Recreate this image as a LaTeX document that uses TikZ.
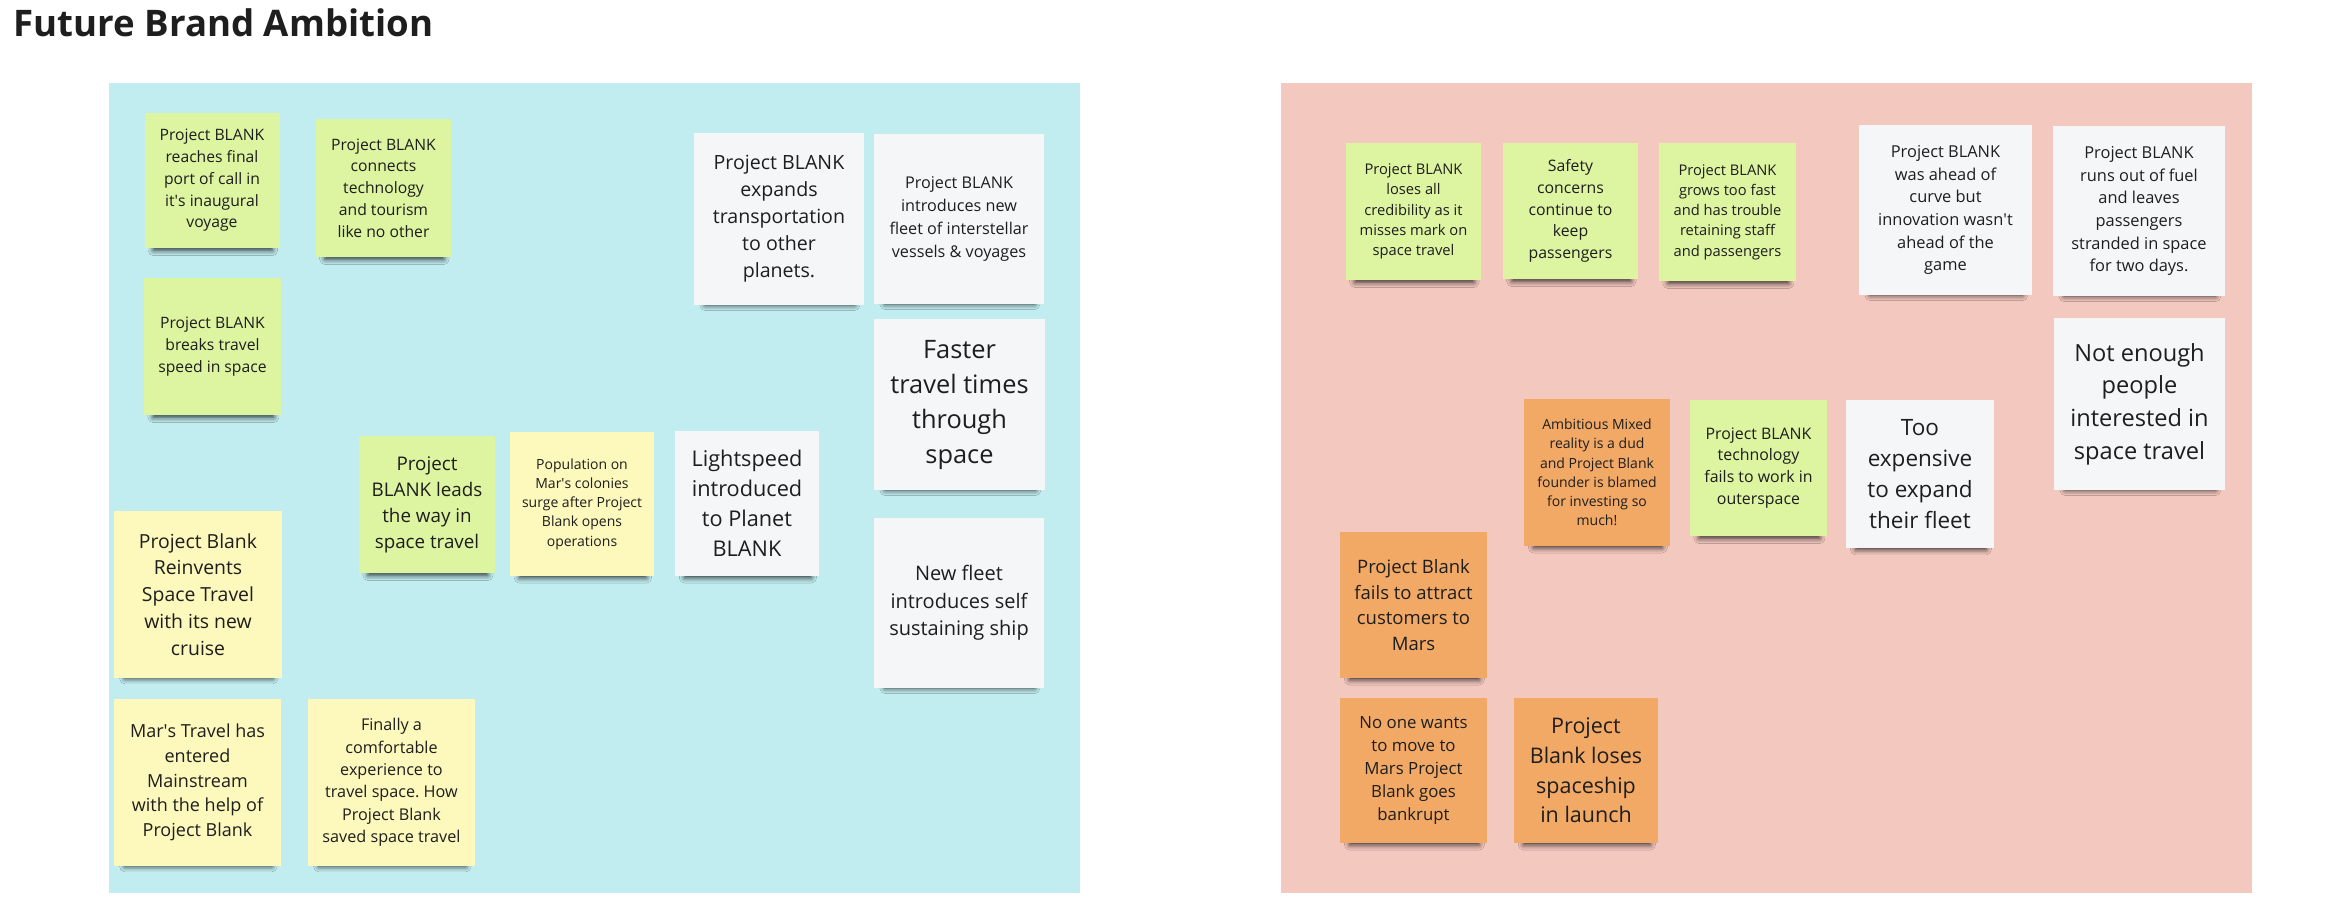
\documentclass[tikz,border=0pt]{standalone}
\usepackage{fontspec}
\setmainfont{Open Sans}
\usetikzlibrary{shadows.blur}
\frenchspacing

\definecolor{boardcyan}{HTML}{C2EDF0}
\definecolor{boardpink}{HTML}{F3C8BF}
\definecolor{notegreen}{HTML}{DDF4A0}
\definecolor{noteyellow}{HTML}{FDF8BB}
\definecolor{notewhite}{HTML}{F5F6F8}
\definecolor{noteorange}{HTML}{F2A965}
\definecolor{inkgray}{HTML}{1E1E1E}

\newcommand{\apo}{\textquotesingle}

\tikzset{
  note/.style={rectangle, inner sep=0pt, align=center, text=inkgray,
    blur shadow={shadow xshift=1pt, shadow yshift=-12pt, shadow scale=.88,
      shadow blur radius=6pt, shadow opacity=80}},
  green/.style={note, fill=notegreen},
  yellow/.style={note, fill=noteyellow},
  white/.style={note, fill=notewhite},
  orange/.style={note, fill=noteorange},
  sz/.style 2 args={minimum width=#1pt, minimum height=#2pt},
  fs/.style 2 args={font=\fontsize{#1pt}{#2pt}\selectfont},
}

\begin{document}
\begin{tikzpicture}[x=1pt,y=-1pt]
\useasboundingbox (0,0) rectangle (2332,900);
\node[anchor=base west, inkgray, font=\fontsize{36.6pt}{44pt}\selectfont\bfseries]
  (title) at (10,36) {Future Brand Ambition};

% boards
\fill[boardcyan] (109,83) rectangle (1080,893);
\fill[boardpink] (1281,83) rectangle (2252,893);

% positive future
\node[green, sz={135}{135}, fs={15.7}{21.7}] (reach) at (212,180.5)
  {Project BLANK\\reaches final\\port of call in\\it\apo s inaugural\\voyage};
\node[green, sz={135}{138}, fs={15.7}{21.8}] (connect) at (383.5,188)
  {Project BLANK\\connects\\technology\\and tourism\\like no other};
\node[green, sz={137}{137}, fs={15.7}{22}] (breaks) at (212.5,346.5)
  {Project BLANK\\breaks travel\\speed in space};
\node[white, sz={170}{172}, fs={19.6}{27}] (expands) at (779,219)
  {Project BLANK\\expands\\transportation\\to other\\planets.};
\node[white, sz={170}{170}, fs={16.2}{22.7}] (fleet) at (959,219)
  {Project BLANK\\introduces new\\fleet of interstellar\\vessels \& voyages};
\node[white, sz={171}{171}, fs={25.4}{35}] (faster) at (959.5,404.5)
  {Faster\\travel times\\through\\space};
\node[green, sz={136}{137}, fs={18.8}{26}] (leads) at (427,504.5)
  {Project\\BLANK leads\\the way in\\space travel};
\node[yellow, sz={144}{144}, fs={14}{19.3}] (colonies) at (582,504)
  {Population on\\Mar\apo s colonies\\surge after Project\\Blank opens\\operations};
\node[white, sz={144}{145}, fs={21.7}{30}] (lightspeed) at (747,503.5)
  {Lightspeed\\introduced\\to Planet\\BLANK};
\node[white, sz={170}{170}, fs={20}{27.7}] (selfship) at (959,603)
  {New fleet\\introduces self\\sustaining ship};
\node[yellow, sz={168}{167}, fs={19.4}{26.8}] (reinvents) at (198,594.5)
  {Project Blank\\Reinvents\\Space Travel\\with its new\\cruise};
\node[yellow, sz={167}{167}, fs={18}{24.8}] (mainstream) at (197.5,782.5)
  {Mar\apo s Travel has\\entered\\Mainstream\\with the help of\\Project Blank};
\node[yellow, sz={167}{167}, fs={16.2}{22.3}] (comfort) at (391.5,782.5)
  {Finally a\\comfortable\\experience to\\travel space. How\\Project Blank\\saved space travel};

% negative future
\node[green, sz={135}{137}, fs={14.7}{20.3}] (credibility) at (1413.5,211.5)
  {Project BLANK\\loses all\\credibility as it\\misses mark on\\space travel};
\node[green, sz={135}{136}, fs={15.8}{21.8}] (safety) at (1570.5,211)
  {Safety\\concerns\\continue to\\keep\\passengers};
\node[green, sz={137}{138}, fs={14.7}{20.3}] (growth) at (1727.5,212)
  {Project BLANK\\grows too fast\\and has trouble\\retaining staff\\and passengers};
\node[white, sz={173}{170}, fs={16.4}{22.7}] (ahead) at (1945.5,210)
  {Project BLANK\\was ahead of\\curve but\\innovation wasn\apo t\\ahead of the\\game};
\node[white, sz={172}{170}, fs={16.4}{22.7}] (fuel) at (2139,211)
  {Project BLANK\\runs out of fuel\\and leaves\\passengers\\stranded in space\\for two days.};
\node[white, sz={171}{172}, fs={23.6}{32.6}] (interest) at (2139.5,404)
  {Not enough\\people\\interested in\\space travel};
\node[orange, sz={146}{147}, fs={14}{19.3}] (mixedreality) at (1597,472.5)
  {Ambitious Mixed\\reality is a dud\\and Project Blank\\founder is blamed\\for investing so\\much!};
\node[green, sz={137}{136}, fs={15.9}{21.9}] (techfail) at (1758.5,468)
  {Project BLANK\\technology\\fails to work in\\outerspace};
\node[white, sz={148}{148}, fs={22.5}{31}] (expensive) at (1920,474)
  {Too\\expensive\\to expand\\their fleet};
\node[orange, sz={147}{146}, fs={18.5}{25.6}] (attract) at (1413.5,605)
  {Project Blank\\fails to attract\\customers to\\Mars};
\node[orange, sz={147}{145}, fs={16.8}{23.2}] (bankrupt) at (1413.5,770.5)
  {No one wants\\to move to\\Mars Project\\Blank goes\\bankrupt};
\node[orange, sz={144}{145}, fs={21.5}{29.7}] (launch) at (1586,770.5)
  {Project\\Blank loses\\spaceship\\in launch};
\end{tikzpicture}
\end{document}
